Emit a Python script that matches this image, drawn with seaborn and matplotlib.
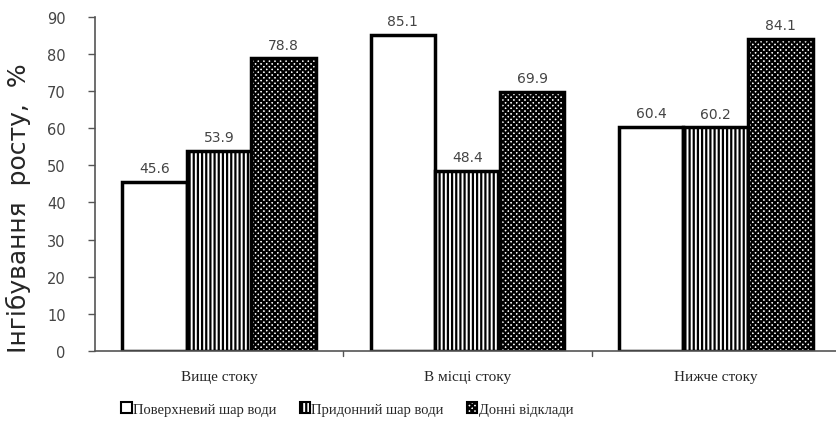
import matplotlib
matplotlib.use("Agg")
import matplotlib.pyplot as plt
import seaborn as sns
import pandas as pd

categories = ["Вище стоку", "В місці стоку", "Нижче стоку"]
series = ["Поверхневий шар води", "Придонний шар води", "Донні відклади"]
surface = [45.6, 85.1, 60.4]
bottom_water = [53.9, 48.4, 60.2]
sediments = [78.8, 69.9, 84.1]
yticks = [0, 10, 20, 30, 40, 50, 60, 70, 80, 90]

rows = []
for s, vals in zip(series, [surface, bottom_water, sediments]):
    for c, v in zip(categories, vals):
        rows.append({"cat": c, "series": s, "value": v})
df = pd.DataFrame(rows)

sns.set_style("white")
plt.rcParams["hatch.linewidth"] = 1.6

fig = plt.figure(figsize=(8.37, 4.27), dpi=100)
ax = fig.add_axes([0.1135, 0.176, 0.89, 0.782])

sns.barplot(data=df, x="cat", y="value", hue="series", order=categories,
            hue_order=series, palette=["white", "white", "white"],
            edgecolor="black", linewidth=2.5, width=0.78, ax=ax, legend=True,
            saturation=1)

hatches = [None, "||||", "xxxxxx"]
for cont, h in zip(ax.containers, hatches):
    for bar in cont:
        if h:
            bar.set_hatch(h)
    ax.bar_label(cont, labels=[f"{v.get_height():.1f}" for v in cont], padding=5,
                 fontsize=10, color="#444444", family="DejaVu Sans")

ax.set_xlim(-0.5, 2.5)
ax.set_ylim(0, 90)
ax.set_yticks(yticks)
ax.set_yticklabels([str(t) for t in yticks], fontsize=10.5, color="#444444", family="DejaVu Sans")
ax.set_xticks([0, 1, 2])
ax.set_xticklabels(categories, fontsize=11, family="Liberation Serif")
ax.tick_params(axis="x", length=0, pad=14)
ax.tick_params(axis="y", left=True, length=5, width=1, color="#555555", pad=16)
for x in [0.5, 1.5]:
    ax.plot([x, x], [0, -1.5], color="#555555", lw=1, clip_on=False)
for sp in ["top", "right"]:
    ax.spines[sp].set_visible(False)
for sp in ["left", "bottom"]:
    ax.spines[sp].set_color("#555555")
    ax.spines[sp].set_linewidth(1.2)

ax.set_xlabel("")
ax.set_ylabel("Інгібування  росту,  %", fontsize=18, family="DejaVu Sans")
ax.yaxis.set_label_coords(-0.086, 0.43)

handles, labels = ax.get_legend_handles_labels()
ax.get_legend().remove()
leg = fig.legend(handles, labels, loc="center", bbox_to_anchor=(0.415, 0.04), ncol=3,
                 frameon=False, prop={"family": "Liberation Serif", "size": 10.5},
                 handlelength=0.7, handleheight=0.7, handletextpad=0.1,
                 columnspacing=1.6, borderpad=0)
for p, h in zip(leg.legend_handles, hatches):
    p.set_linewidth(1.5)
    if h:
        p.set_hatch(h)

fig.savefig("out.png", dpi=100)
